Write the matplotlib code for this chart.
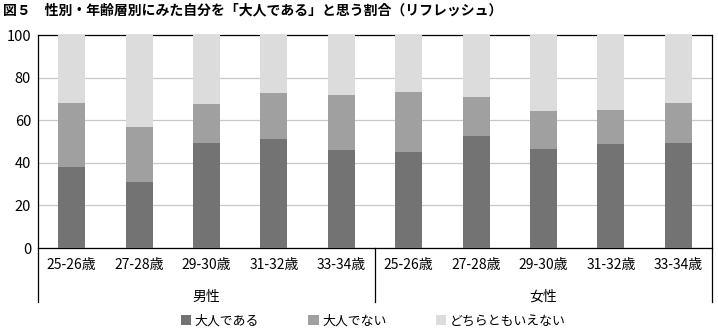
import matplotlib
matplotlib.use("Agg")
import matplotlib.pyplot as plt
from matplotlib.patches import Patch
import numpy as np

plt.rcParams['font.family'] = ['Noto Sans CJK JP', 'DejaVu Sans']

# ------------------------------------------------------------
# Data
# ------------------------------------------------------------
ages = ["25-26歳", "27-28歳", "29-30歳", "31-32歳", "33-34歳"]
groups = ["男性", "女性"]
series_names = ["大人である", "大人でない", "どちらともいえない"]

adult = [37.9, 31.2, 49.1, 51.4, 46.2, 45.3, 52.5, 46.7, 48.6, 49.2]
not_adult = [30.4, 25.5, 18.5, 21.6, 25.4, 28.1, 18.2, 17.6, 16.4, 18.8]
neither = [100 - a - b for a, b in zip(adult, not_adult)]

colors = ["#737373", "#a0a0a0", "#dcdcdc"]

# ------------------------------------------------------------
# Plot
# ------------------------------------------------------------
fig = plt.figure(figsize=(7.18, 3.29), dpi=100)
ax = fig.add_axes([0.0529, 0.2462, 0.9387, 0.6474])

x = np.arange(len(adult))
labels = ages * len(groups)
bottom = np.zeros(len(adult))
for vals, c in zip([adult, not_adult, neither], colors):
    ax.bar(x, vals, width=0.4, bottom=bottom, color=c, zorder=3)
    bottom += np.array(vals)

ax.set_xlim(-0.5, len(adult) - 0.5)
ax.set_ylim(0, 100)
ax.set_yticks([0, 20, 40, 60, 80, 100])
ax.yaxis.grid(True, color="#c8c8c8", lw=0.9, zorder=0)
ax.set_xticks(x)
ax.set_xticklabels(labels, fontsize=10)
ax.tick_params(axis="both", length=0)
ax.tick_params(axis="x", pad=7)
ax.tick_params(axis="y", pad=5, labelsize=10.5)
for s in ax.spines.values():
    s.set_linewidth(0.9)
    s.set_color("black")

# group separators and labels below the axis
for xs in [0, 0.5, 1]:
    ax.plot([xs, xs], [0, -0.255], transform=ax.transAxes, color="black",
            lw=0.9, clip_on=False)
for i, g in enumerate(groups):
    ax.text(0.25 + 0.5 * i, -0.23, g, transform=ax.transAxes, ha="center",
            va="center", fontsize=10)

fig.text(0.004, 0.968, "図５　性別・年齢層別にみた自分を「大人である」と思う割合（リフレッシュ）",
         fontsize=10, fontweight="bold", ha="left", va="center")

handles = [Patch(facecolor=c, edgecolor="none") for c in colors]
fig.legend(handles, series_names, loc="center", bbox_to_anchor=(0.52, 0.025),
           ncol=3, frameon=False, fontsize=9.3, handlelength=0.8,
           handleheight=0.8, handletextpad=0.3, columnspacing=3.8)

fig.savefig("out.png", dpi=100)
